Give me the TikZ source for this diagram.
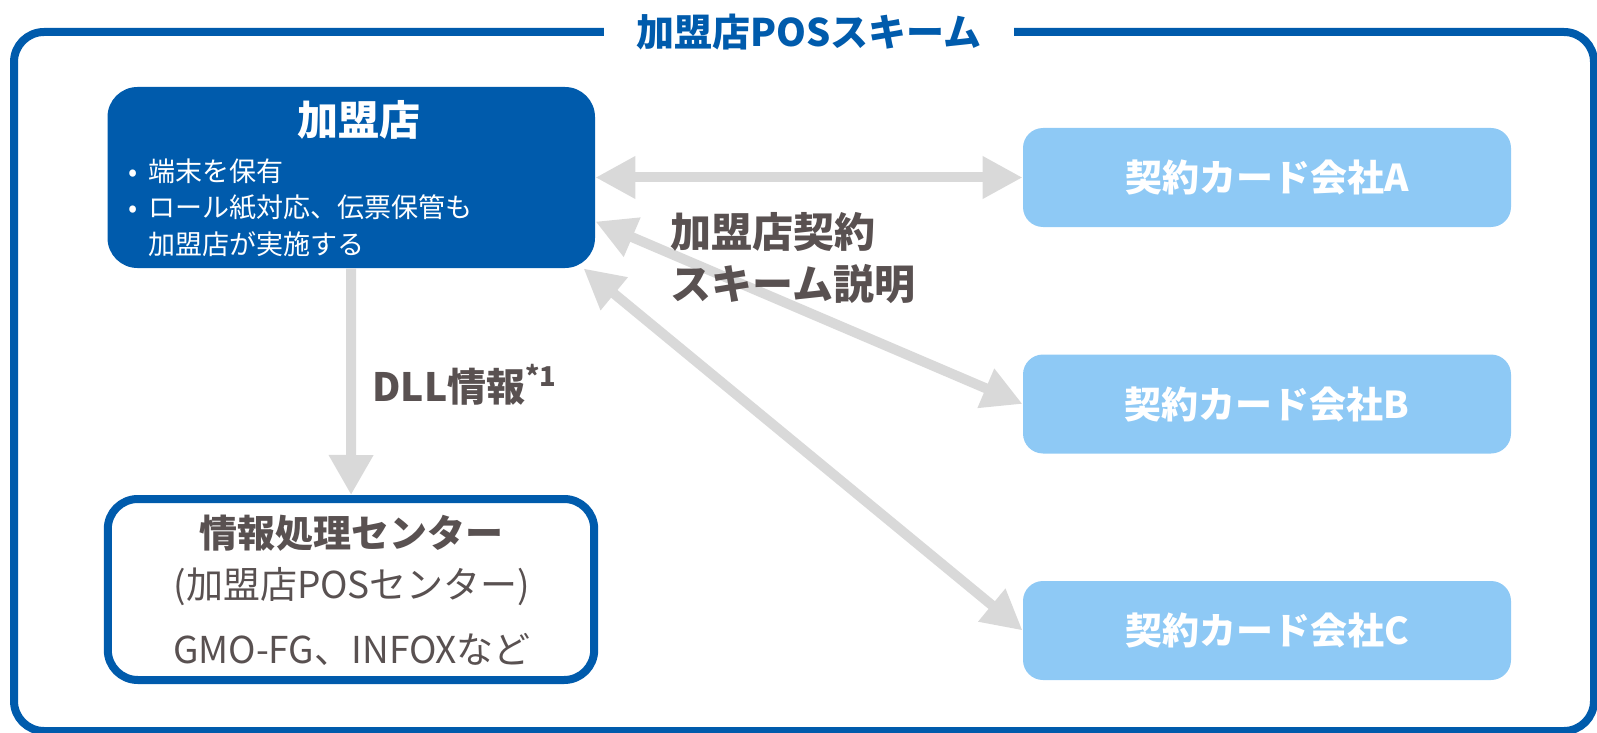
\documentclass[tikz,border=0pt]{standalone}
\usepackage{fontspec}
\setmainfont{Noto Sans CJK JP}
\usetikzlibrary{positioning,arrows.meta}
\definecolor{posblue}{RGB}{0,91,172}
\definecolor{cardblue}{RGB}{142,201,245}
\definecolor{linkgray}{RGB}{217,217,217}
\definecolor{inkgray}{RGB}{89,81,81}

\begin{document}
\begin{tikzpicture}[x=0.5pt,y=-0.5pt,
  card/.style={fill=cardblue,rounded corners=10pt,minimum width=244pt,minimum height=49.5pt,text=white,font=\bfseries\fontsize{18.5}{22}\selectfont},
  link/.style={draw=linkgray,line width=5pt,-{Triangle[width=21pt,length=20pt]}},
  twoway/.style={link,{Triangle[width=20pt,length=20pt]}-{Triangle[width=20pt,length=20pt]}},
  graytext/.style={text=inkgray,inner sep=0pt}]
\useasboundingbox (0,0) rectangle (1597,733);
% outer frame and its title
\draw[posblue,line width=4pt,rounded corners=15pt] (14,32) rectangle (1594,731);
\node[fill=white,text=posblue,font=\bfseries\fontsize{19}{23}\selectfont,minimum width=205pt,inner ysep=2pt] (scheme) at (809,32) {加盟店POSスキーム};
% member store
\node[fill=posblue,rounded corners=15pt,minimum width=243.75pt,minimum height=90.5pt] (shop) at (351.25,177.5) {};
\node[text=white,font=\bfseries\fontsize{20.5}{24}\selectfont] (shoptitle) at (359,120) {加盟店};
\node[text=white,font=\fontsize{13.5}{18.3}\selectfont,align=left,anchor=north west,inner sep=0pt] (shopnote) at (128,158)
  {\makebox[10pt][l]{•}端末を保有\\\makebox[10pt][l]{•}ロール紙対応、伝票保管も\\\hspace*{10pt}加盟店が実施する};
% processing center
\node[draw=posblue,line width=4pt,fill=white,rounded corners=15pt,minimum width=243.2pt,minimum height=90.5pt] (infoctr) at (351,589.5) {};
\node[graytext,font=\bfseries\fontsize{19}{23}\selectfont] (ctrtitle) at (351,533.5) {情報処理センター};
\node[graytext,font=\fontsize{18.5}{22}\selectfont] (ctrsub) at (352,587) {(加盟店POSセンター)};
\node[graytext,font=\fontsize{18.5}{22}\selectfont] (ctrnote) at (352,649) {GMO-FG、INFOXなど};
% card companies
\node[card] (cardA) at (1267,177.5) {契約カード会社A};
\node[card] (cardB) at (1267,404) {契約カード会社B};
\node[card] (cardC) at (1267,630.5) {契約カード会社C};
% connectors
\draw[link] (shop) -- (infoctr);
\draw[twoway] (shop) -- (cardA);
\draw[twoway] ([yshift=-22pt]shop.east) -- (cardB.west);
\draw[twoway] ([xshift=-6pt]shop.south east) -- (cardC.west);
\node[graytext,font=\bfseries\fontsize{19.5}{23}\selectfont,anchor=west] (dll) at (372,385) {DLL情報\textsuperscript{*1}};
\node[graytext,font=\bfseries\fontsize{20.5}{26}\selectfont,align=left,anchor=west] (contract) at (670,258) {加盟店契約\\スキーム説明};
\end{tikzpicture}
\end{document}
